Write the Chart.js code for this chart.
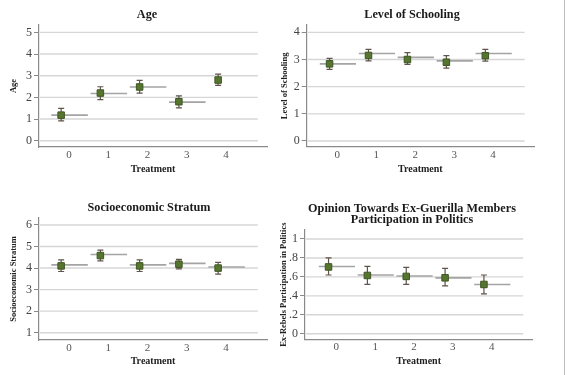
<!DOCTYPE html>
<html><head><meta charset="utf-8">
<script src="https://cdn.jsdelivr.net/npm/chart.js@4.4.1/dist/chart.umd.min.js"></script>
<style>
html,body{margin:0;padding:0;background:#fff;}
#wrap{position:relative;width:568px;height:375px;overflow:hidden;background:#fff;}
canvas{position:absolute;}
#edge{position:absolute;left:564px;top:0;width:1px;height:375px;background:#bdbdbd;}
</style></head>
<body><div id="wrap">
<canvas id="c1" width="284" height="185" style="left:0;top:0"></canvas>
<canvas id="c2" width="292" height="185" style="left:276px;top:0"></canvas>
<canvas id="c3" width="284" height="190" style="left:0;top:185px"></canvas>
<canvas id="c4" width="292" height="190" style="left:276px;top:185px"></canvas>
<div id="edge"></div>
</div>
<script>
// ---- data ----
const categories = [0, 1, 2, 3, 4];

const ageMean = [1.18, 2.20, 2.48, 1.80, 2.80];
const ageLow  = [0.92, 1.90, 2.20, 1.52, 2.55];
const ageHigh = [1.49, 2.49, 2.78, 2.07, 3.07];
const ageLine = [1.18, 2.18, 2.48, 1.78, null];
const ageTicks = [0, 1, 2, 3, 4, 5];
const ageTickLabels = ['0', '1', '2', '3', '4', '5'];

const schoolMean = [2.84, 3.15, 3.00, 2.90, 3.14];
const schoolLow  = [2.64, 2.95, 2.82, 2.68, 2.94];
const schoolHigh = [3.04, 3.37, 3.25, 3.14, 3.37];
const schoolLine = [2.84, 3.22, 3.08, 2.95, 3.22];
const schoolTicks = [0, 1, 2, 3, 4];
const schoolTickLabels = ['0', '1', '2', '3', '4'];

const socioMean = [4.10, 4.58, 4.10, 4.18, 4.00];
const socioLow  = [3.84, 4.33, 3.84, 3.96, 3.72];
const socioHigh = [4.38, 4.83, 4.38, 4.40, 4.26];
const socioLine = [4.15, 4.63, 4.15, 4.22, 4.05];
const socioTicks = [1, 2, 3, 4, 5, 6];
const socioTickLabels = ['1', '2', '3', '4', '5', '6'];

const opinionMean = [0.705, 0.615, 0.605, 0.59, 0.52];
const opinionLow  = [0.62, 0.52, 0.52, 0.505, 0.42];
const opinionHigh = [0.80, 0.71, 0.70, 0.69, 0.62];
const opinionLine = [0.71, 0.62, 0.61, 0.59, 0.52];
const opinionTicks = [0, 0.2, 0.4, 0.6, 0.8, 1];
const opinionTickLabels = ['0', '.2', '.4', '.6', '.8', '1'];

// ---- style ----
const SERIF = '"Liberation Serif", "Times New Roman", serif';
const AXIS_C = '#8a8a8a', GRID_C = '#d6d6d6', LINE_C = '#a4a4a4';
const PT_FILL = '#56762f', PT_BORDER = '#3d5522', ERR_C = '#5f534b';
const POINT_SHIFT = -0.2, LINE_FROM = -0.45, LINE_TO = 0.48, GRID_END = 4.81, CAP = 3;

function lineData(vals) {
  const out = [];
  categories.forEach((c, i) => {
    const v = vals[i];
    out.push({x: c + LINE_FROM, y: v}, {x: c + LINE_TO, y: v}, {x: c + 0.49, y: null});
  });
  return out;
}

const hgridPlugin = {
  id: 'hgrid',
  beforeDatasetsDraw(chart) {
    const {ctx, scales: {x, y}, chartArea} = chart;
    const xr = x.getPixelForValue(GRID_END);
    ctx.save();
    ctx.strokeStyle = GRID_C; ctx.lineWidth = 1.4;
    y.ticks.forEach(t => {
      const py = y.getPixelForValue(t.value);
      ctx.beginPath(); ctx.moveTo(chartArea.left + 1, py); ctx.lineTo(xr, py); ctx.stroke();
    });
    ctx.restore();
  }
};

const errPlugin = {
  id: 'errbars',
  beforeDatasetsDraw(chart, args, opts) {
    const {ctx, scales: {x, y}} = chart;
    ctx.save();
    ctx.strokeStyle = ERR_C; ctx.lineWidth = 1.2;
    opts.low.forEach((lo, i) => {
      const px = x.getPixelForValue(categories[i] + POINT_SHIFT);
      const p1 = y.getPixelForValue(lo), p2 = y.getPixelForValue(opts.high[i]);
      ctx.beginPath();
      ctx.moveTo(px, p1); ctx.lineTo(px, p2);
      ctx.moveTo(px - CAP, p1); ctx.lineTo(px + CAP, p1);
      ctx.moveTo(px - CAP, p2); ctx.lineTo(px + CAP, p2);
      ctx.stroke();
    });
    ctx.restore();
  }
};

function panel(id, p) {
  return new Chart(document.getElementById(id), {
    type: 'scatter',
    data: {datasets: [
      {type: 'line', data: lineData(p.line), borderColor: LINE_C, borderWidth: 1.6,
       pointRadius: 0, spanGaps: false, order: 2},
      {data: categories.map((c, i) => ({x: c + POINT_SHIFT, y: p.mean[i]})),
       pointStyle: 'rect', pointRadius: 4.6, backgroundColor: PT_FILL,
       borderColor: PT_BORDER, borderWidth: 1, order: 1}
    ]},
    options: {
      responsive: false, animation: false, devicePixelRatio: 1,
      layout: {padding: {left: p.L, right: p.R, top: 0, bottom: 0}},
      plugins: {
        legend: {display: false}, tooltip: {enabled: false},
        title: {display: true, text: p.title, color: '#1a1a1a',
          font: {family: SERIF, size: 12.2, weight: 'bold', lineHeight: p.tLH || 1.2},
          padding: {top: p.tTop, bottom: p.tBot}},
        errbars: {low: p.low, high: p.high}
      },
      scales: {
        x: {type: 'linear', min: p.xmin, max: p.xmax,
          afterBuildTicks: s => { s.ticks = categories.map(v => ({value: v})); },
          afterFit: s => { s.height = p.xH; },
          ticks: {font: {family: SERIF, size: 11}, color: '#555', padding: p.xTickPad,
                  maxRotation: 0, callback: (v) => String(v)},
          grid: {display: true, drawOnChartArea: false, drawTicks: false},
          border: {display: true, color: AXIS_C, width: 1.2},
          title: {display: true, text: 'Treatment', color: '#222',
            font: {family: SERIF, size: 10, weight: 'bold'}, padding: {top: 0, bottom: p.xTitlePad}}},
        y: {type: 'linear', min: p.ymin, max: p.ymax,
          afterBuildTicks: s => { s.ticks = p.ticks.map(v => ({value: v})); },
          afterFit: s => { s.width = p.yW; },
          ticks: {font: {family: SERIF, size: 12}, color: '#444', padding: 2,
                  callback: (v, i) => p.labels[i]},
          grid: {display: true, drawOnChartArea: false, drawTicks: true, tickLength: 5, color: AXIS_C},
          border: {display: true, color: AXIS_C, width: 1.2},
          title: {display: true, text: p.ytitle, color: '#222',
            font: {family: SERIF, size: 8.5, weight: 'bold'}, padding: {top: p.yTitlePad, bottom: 0}}},
        yr: {type: 'linear', position: 'right', display: true,
          afterFit: s => { s.width = p.phW; },
          ticks: {display: false}, grid: {display: false}, border: {display: false},
          title: {display: false}}
      }
    },
    plugins: [hgridPlugin, errPlugin]
  });
}

panel('c1', {title: 'Age', ytitle: 'Age', mean: ageMean, low: ageLow, high: ageHigh, line: ageLine,
  ticks: ageTicks, labels: ageTickLabels, ymin: -0.29, ymax: 5.34, xmin: -0.764, xmax: 5.045,
  L: 18, R: 8, yW: 21, phW: 9, xH: 38, tTop: 7.68, tBot: 2.68, xTickPad: 1.4, xTitlePad: 10, yTitlePad: -9.1});

panel('c2', {title: 'Level of Schooling', ytitle: 'Level of Schooling', mean: schoolMean, low: schoolLow,
  high: schoolHigh, line: schoolLine, ticks: schoolTicks, labels: schoolTickLabels,
  ymin: -0.21, ymax: 4.27, xmin: -0.787, xmax: 5.05,
  L: 14, R: 34, yW: 16.7, phW: 0, xH: 38.3, tTop: 7.68, tBot: 2.68, xTickPad: 1.7, xTitlePad: 10, yTitlePad: -10.1});

panel('c3', {title: 'Socioeconomic Stratum', ytitle: 'Socioeconomic Stratum', mean: socioMean, low: socioLow,
  high: socioHigh, line: socioLine, ticks: socioTicks, labels: socioTickLabels,
  ymin: 0.66, ymax: 6.325, xmin: -0.764, xmax: 5.045,
  L: 18, R: 4, yW: 21, phW: 13, xH: 35, tTop: 15.38, tBot: 2.98, xTickPad: 1.1, xTitlePad: 7.3, yTitlePad: -9.1});

panel('c4', {title: ['Opinion Towards Ex-Guerilla Members', 'Participation in Politics'],
  ytitle: 'Ex-Rebels Participation in Politics', mean: opinionMean, low: opinionLow,
  high: opinionHigh, line: opinionLine, ticks: opinionTicks, labels: opinionTickLabels,
  ymin: -0.059, ymax: 1.095, xmin: -0.806, xmax: 5.045, tLH: 0.85,
  L: 8, R: 28, yW: 21, phW: 7.7, xH: 35.7, tTop: 18.8, tBot: 5.46, xTickPad: 1.4, xTitlePad: 8, yTitlePad: -5.8});
</script>
</body></html>
